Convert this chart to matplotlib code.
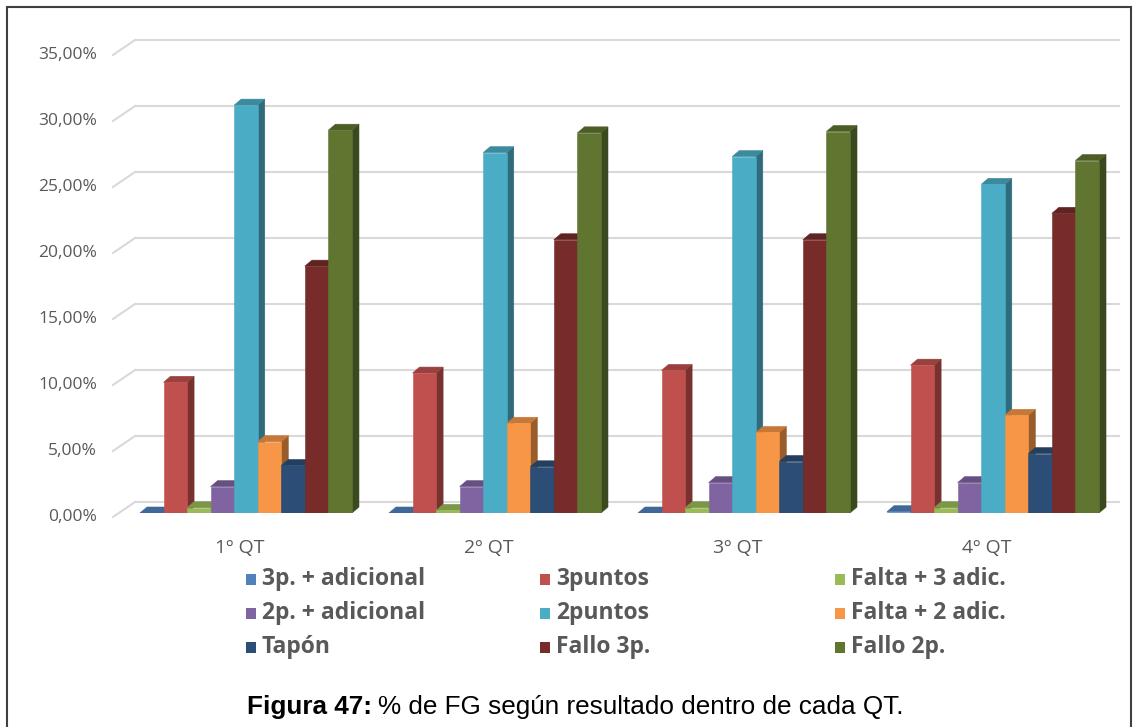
import matplotlib
matplotlib.use("Agg")
import matplotlib.pyplot as plt
from matplotlib.patches import Polygon, Rectangle
import numpy as np

# ---- data -------------------------------------------------------------
quarters = ["1º QT", "2º QT", "3º QT", "4º QT"]
series_names = ["3p. + adicional", "3puntos", "Falta + 3 adic.",
                "2p. + adicional", "2puntos", "Falta + 2 adic.",
                "Tapón", "Fallo 3p.", "Fallo 2p."]
tres_adicional = [0.0, 0.0, 0.0, 0.1]
tres_puntos = [9.9, 10.6, 10.8, 11.2]
falta_tres = [0.4, 0.2, 0.4, 0.4]
dos_adicional = [2.0, 2.0, 2.3, 2.3]
dos_puntos = [30.9, 27.3, 27.0, 24.9]
falta_dos = [5.4, 6.8, 6.1, 7.4]
tapon = [3.6, 3.5, 3.9, 4.5]
fallo_tres = [18.7, 20.7, 20.7, 22.7]
fallo_dos = [29.0, 28.8, 28.9, 26.7]
yticks = [0, 5, 10, 15, 20, 25, 30, 35]

series_values = [tres_adicional, tres_puntos, falta_tres, dos_adicional,
                 dos_puntos, falta_dos, tapon, fallo_tres, fallo_dos]
colors = ["#4F81BD", "#C0504D", "#9BBB59", "#8064A2", "#4BACC6",
          "#F79646", "#2C4D75", "#772C2A", "#5F7530"]

TEXT = "#595959"
W, H = 1134, 727


def fx(px):
    return px / W


def fy(py):
    return 1 - py / H


fig = plt.figure(figsize=(W / 100, H / 100), dpi=100)
fig.patch.set_facecolor("white")

# plot area: front baseline at 0 %, 13.2 px per percentage point
ax_left, ax_right, ax_bottom, ax_top = 113, 1122, 513, 51
ax = fig.add_axes([fx(ax_left), fy(ax_bottom),
                   (ax_right - ax_left) / W, (ax_bottom - ax_top) / H])
x0, x1 = -0.534, 3.518
ax.set_xlim(x0, x1)
ax.set_ylim(0, 35)
ax.axis("off")

PX = (ax_right - ax_left) / (x1 - x0)   # px per x unit
PY = (ax_bottom - ax_top) / 35.0        # px per y unit


def dx(px):
    return x0 + (px - ax_left) / PX


# walls: back gridlines plus the slanted side-wall stubs
grid_c = "#D9D9D9"
back_up = 11 / PY
for v in yticks:
    ax.plot([dx(135), dx(1120)], [v + back_up] * 2, color=grid_c,
            lw=1.5, zorder=1, clip_on=False, solid_capstyle="butt")
    ax.plot([dx(113), dx(135)], [v - 4 / PY, v + back_up], color=grid_c,
            lw=1.5, zorder=1, clip_on=False)
    lab = f"{v:.2f}%".replace(".", ",")
    ax.text(dx(97), v - 4 / PY, lab, ha="right", va="center",
            fontsize=12.5, color=TEXT, family="Open Sans", clip_on=False)

# 3-D style clustered columns
w = 0.0946
ddx = 7 / PX
ddy = 6 / PY
n = len(series_values)


def shade(c, f):
    r, g, b = matplotlib.colors.to_rgb(c)
    return (r * f, g * f, b * f)


groups = np.arange(len(quarters))
for i, (vals, col) in enumerate(zip(series_values, colors)):
    lefts = groups - n / 2 * w + i * w
    z = 3 + i * 0.1
    ax.bar(lefts, vals, width=w, align="edge", color=col, edgecolor=col,
           linewidth=0.4, zorder=z + 0.05)
    for lf, v in zip(lefts, vals):
        side = Polygon([(lf + w, 0), (lf + w, v), (lf + w + ddx, v + ddy),
                        (lf + w + ddx, ddy)], closed=True,
                       fc=shade(col, 0.62), ec=shade(col, 0.62), lw=0.4,
                       zorder=z)
        top = Polygon([(lf, v), (lf + w, v), (lf + w + ddx, v + ddy),
                       (lf + ddx, v + ddy)], closed=True,
                      fc=shade(col, 0.8), ec=shade(col, 0.8), lw=0.4,
                      zorder=z + 0.01)
        ax.add_patch(side)
        ax.add_patch(top)

# category labels
for g, q in zip(groups, quarters):
    ax.text(g - 6 / PX, -35 / PY, q, ha="center", va="center",
            fontsize=14, color=TEXT, family="Open Sans", clip_on=False)

# legend, three columns filled row by row
row_y = [579, 613, 647]
col_x = [246, 540, 835]
for k, (name, col) in enumerate(zip(series_names, colors)):
    r, c = divmod(k, 3)
    xm, ym = col_x[c], row_y[r]
    fig.add_artist(Rectangle((fx(xm), fy(ym + 5.5)), 10 / W, 11 / H,
                             transform=fig.transFigure, fc=col, ec="none"))
    fig.text(fx(xm + 16), fy(ym), name, ha="left", va="center",
             fontsize=16.5, fontweight="bold", color=TEXT,
             family="Open Sans")

# outer frame
fig.add_artist(Rectangle((fx(7), fy(745)), (1131 - 7) / W, (745 - 7) / H,
                         transform=fig.transFigure, fill=False,
                         ec="#404040", lw=1.5))

# caption: bold label followed by regular text
cap_y = fy(707)
t1 = fig.text(fx(247), cap_y, "Figura 47:", ha="left", va="center",
              fontsize=18.8, fontweight="bold", color="black",
              family="Liberation Sans")
renderer = fig.canvas.get_renderer()
bb = t1.get_window_extent(renderer=renderer)
fig.text(bb.x1 / W + fx(6), cap_y,
         "% de FG según resultado dentro de cada QT.", ha="left",
         va="center", fontsize=18.8, color="black",
         family="Liberation Sans")

fig.savefig("out.png", dpi=100)
